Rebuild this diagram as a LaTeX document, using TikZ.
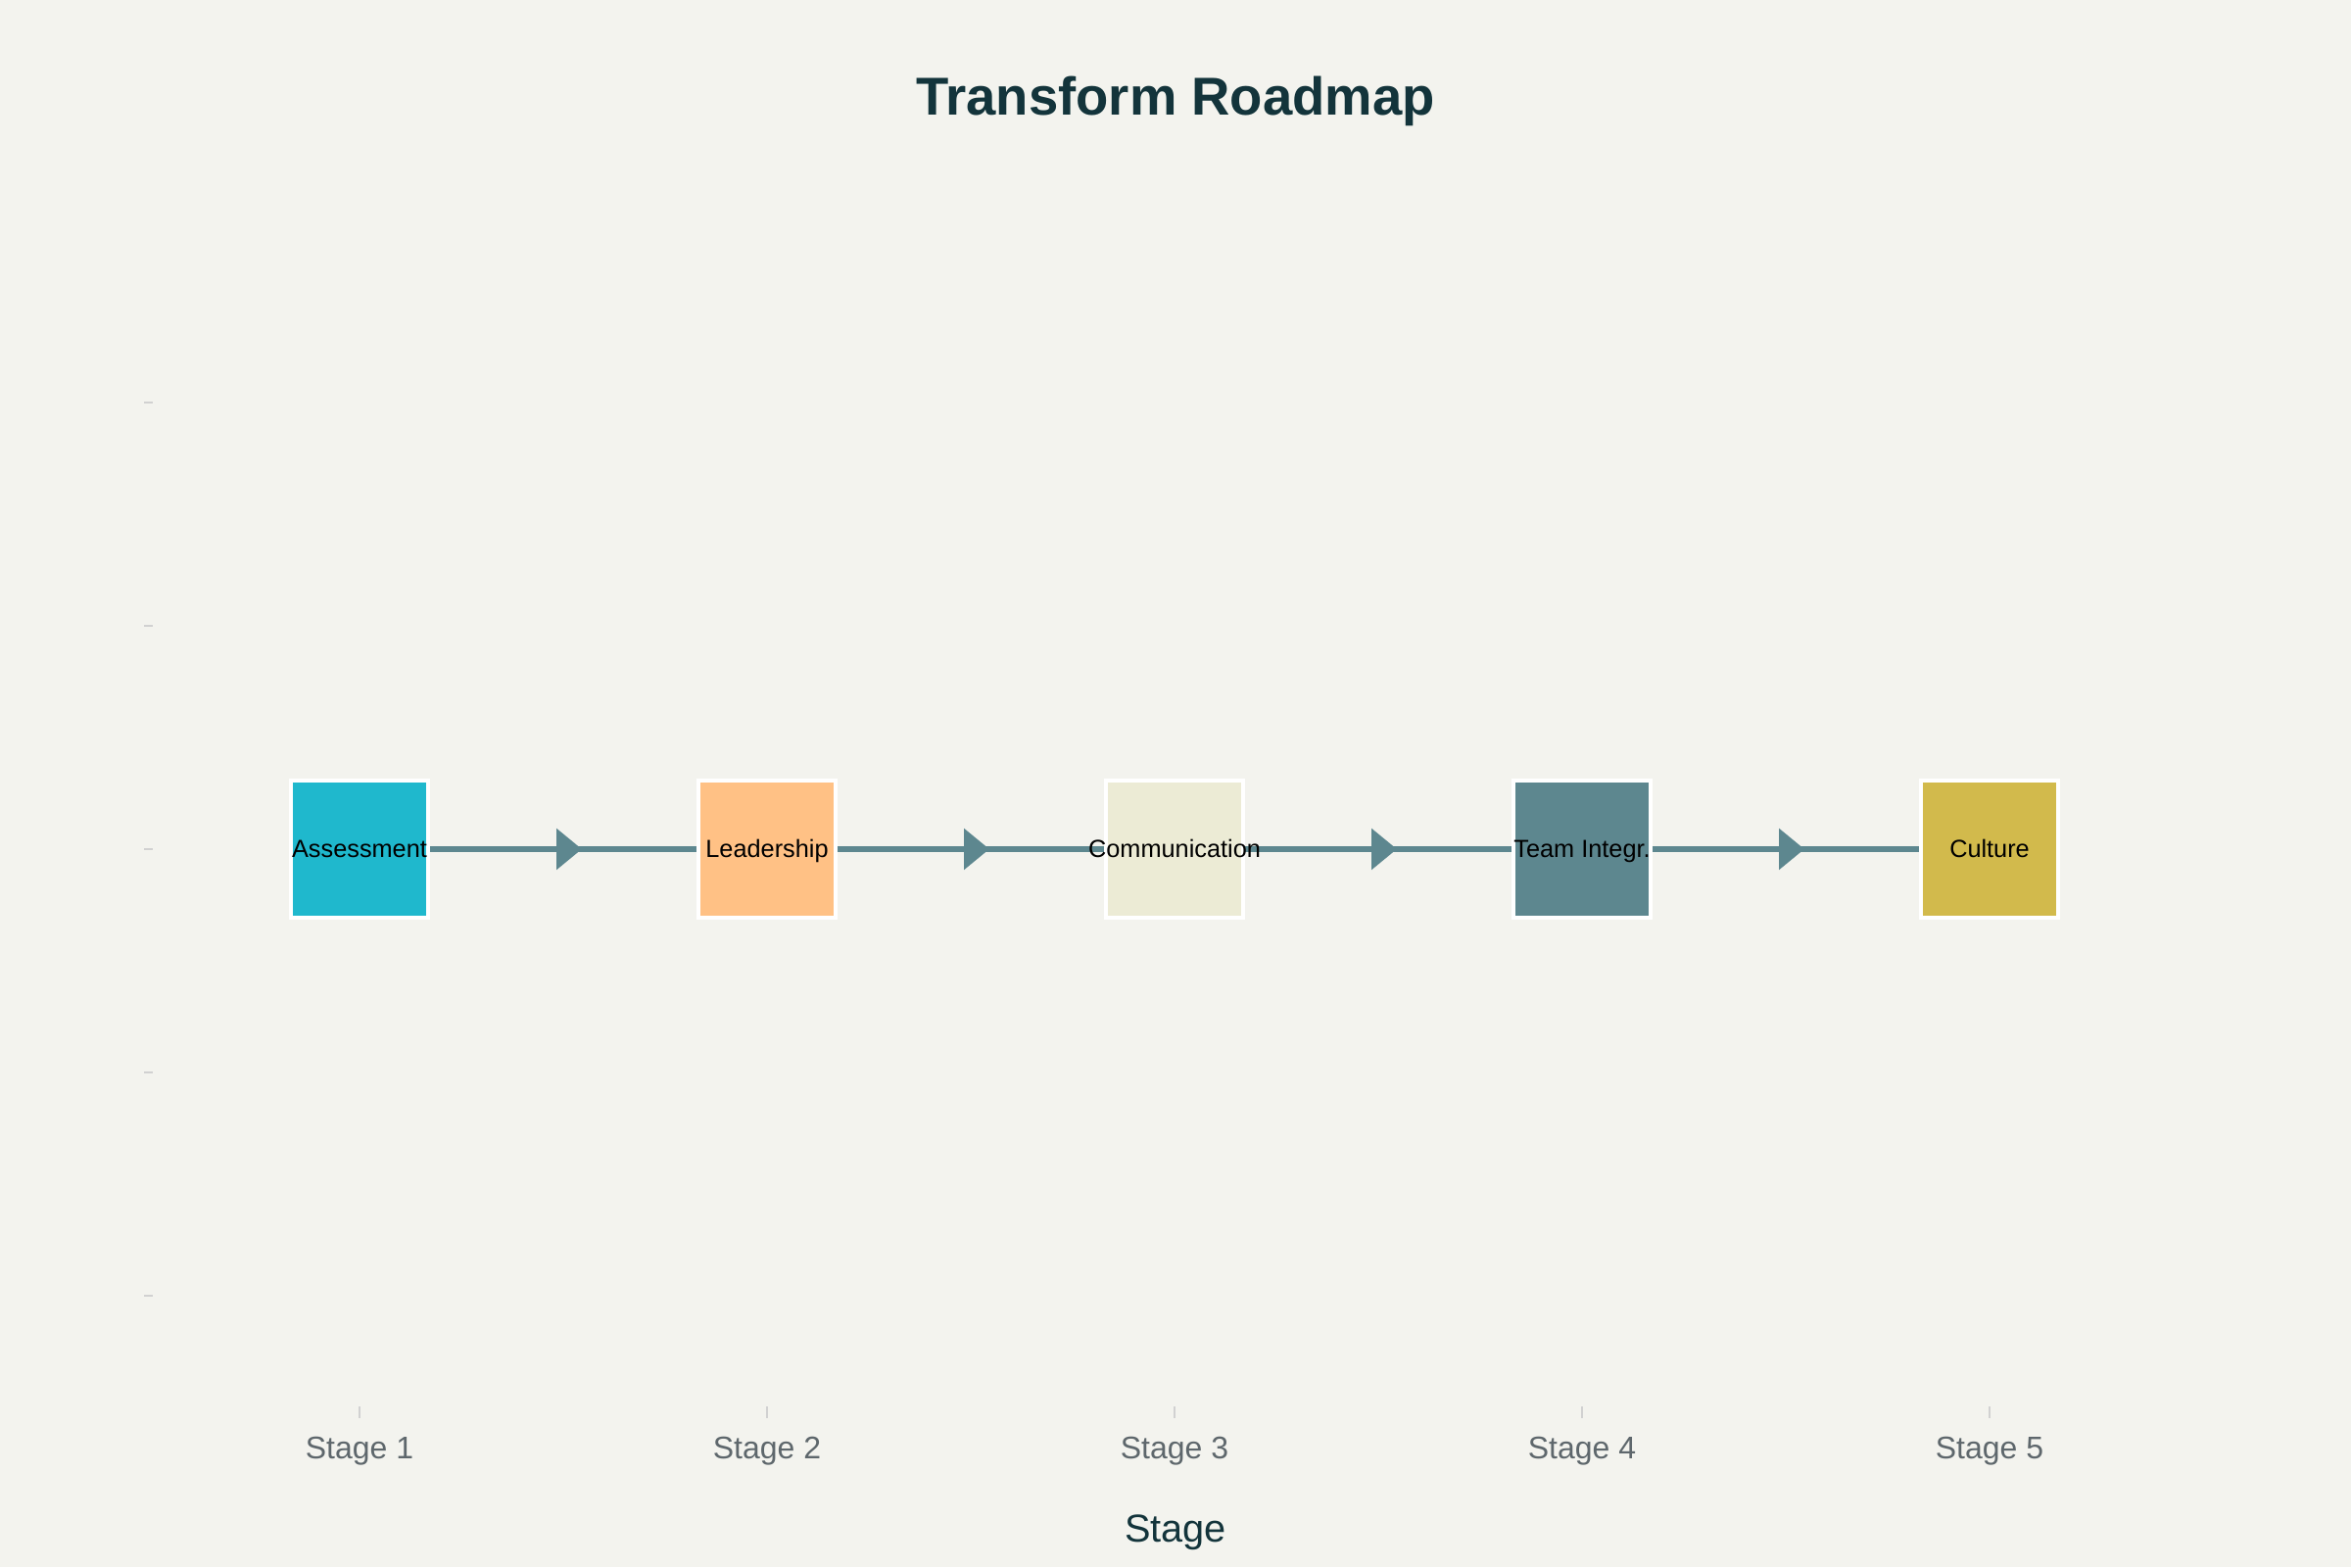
\documentclass[tikz,border=0pt]{standalone}
\usepackage{fontspec}
\setmainfont{Liberation Sans}
\usetikzlibrary{arrows.meta,decorations.markings}

\definecolor{paper}{HTML}{F3F3EE}
\definecolor{ink}{HTML}{13343B}
\definecolor{tickgray}{HTML}{5E676C}
\definecolor{flowcol}{HTML}{5D878F}
\definecolor{stageA}{HTML}{1FB8CD}
\definecolor{stageB}{HTML}{FFC185}
\definecolor{stageC}{HTML}{ECEBD5}
\definecolor{stageD}{HTML}{5D878F}
\definecolor{stageE}{HTML}{D2BA4C}

\def\boxSize{1.40cm}
\def\firstX{3.67}
\def\stageGap{4.16}
\def\rowY{7.33}
\def\rowGap{2.28}

\begin{document}
\begin{tikzpicture}[
    stagebox/.style={draw=white,line width=1.3pt,minimum size=\boxSize,inner sep=0pt},
    boxlabel/.style={font=\fontsize{7.2}{8.6}\selectfont,text=black,inner sep=0pt,anchor=base,yshift=-2.4pt},
    flow/.style={draw=flowcol,line width=1.7pt,postaction={decorate},
      decoration={markings,mark=at position 0.57 with {\arrow[flowcol]{Triangle[length=0.26cm,width=0.41cm]}}}},
    ticklabel/.style={font=\fontsize{9.1}{11}\selectfont,text=tickgray},
    tickline/.style={draw=black!18,line width=0.4pt}
  ]
    \useasboundingbox[fill=paper] (0,0) rectangle (24,16);

    \node[font=\bfseries\fontsize{15.5}{18}\selectfont,text=ink] (title) at (12,14.97) {Transform Roadmap};

    % y axis ticks
    \foreach \k in {-2,...,2} {
      \draw[tickline] (1.47,\rowY+\k*\rowGap) -- ++(0.09,0);
    }

    % stages
    \foreach \i/\c in {1/stageA,2/stageB,3/stageC,4/stageD,5/stageE} {
      \pgfmathsetmacro{\x}{\firstX+(\i-1)*\stageGap}
      \node[stagebox,fill=\c] (s\i) at (\x,\rowY) {};
      \draw[tickline] (\x,1.52) -- ++(0,0.12);
      \node[ticklabel] (t\i) at (\x,1.18) {Stage \i};
    }

    \foreach \i/\j in {1/2,2/3,3/4,4/5} {
      \draw[flow] (s\i.east) -- (s\j.west);
    }

    \foreach \i/\t in {1/Assessment,2/Leadership,3/Communication,4/Team Integr.,5/Culture} {
      \node[boxlabel] (l\i) at (s\i) {\t};
    }

    \node[font=\fontsize{11.3}{13}\selectfont,text=ink] (xtitle) at (12,0.35) {Stage};
  \end{tikzpicture}
\end{document}
